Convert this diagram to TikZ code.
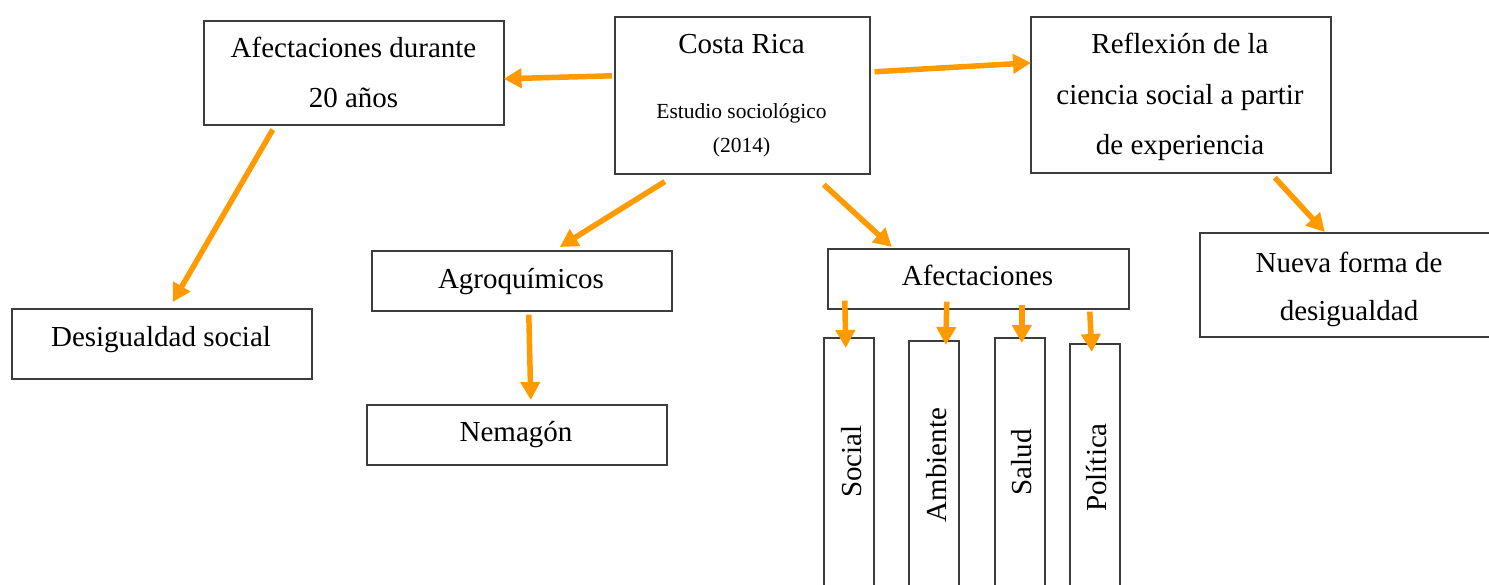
\documentclass[tikz,border=0pt]{standalone}
\usepackage{fontspec}
\setmainfont{Liberation Serif}
\usetikzlibrary{arrows.meta}
\definecolor{arrcol}{RGB}{255,155,0}
\definecolor{boxline}{RGB}{60,60,60}
\tikzset{
  box/.style={draw=boxline, line width=1.6pt, fill=white, anchor=north west, inner sep=0pt},
  txt/.style={anchor=base, inner sep=0pt, font=\fontsize{29}{29}\selectfont},
  smalltxt/.style={anchor=base, inner sep=0pt, font=\fontsize{21.5}{21.5}\selectfont},
  arr/.style={draw=arrcol, line width=5.5pt, -{Triangle[length=18pt,width=19pt]}},
}
\begin{document}
\begin{tikzpicture}[x=1pt,y=-1pt]
\path[use as bounding box, clip] (0,0) rectangle (1489,585);
\fill[white] (0,0) rectangle (1489,585);
% boxes
\node[box, minimum width=300pt, minimum height=104pt] (ad) at (203,20) {};
\node[box, minimum width=255pt, minimum height=157pt] (cr) at (614,16) {};
\node[box, minimum width=300pt, minimum height=156pt] (rf) at (1030,16) {};
\node[box, minimum width=320pt, minimum height=104pt] (nf) at (1199,232) {};
\node[box, minimum width=300pt, minimum height=70pt] (ds) at (11,308) {};
\node[box, minimum width=300pt, minimum height=60pt] (ag) at (371,250) {};
\node[box, minimum width=300pt, minimum height=60pt] (ne) at (366,404) {};
\node[box, minimum width=301pt, minimum height=60pt] (af) at (827,248) {};
\node[box, minimum width=50pt, minimum height=300pt] (so) at (823,337) {};
\node[box, minimum width=50pt, minimum height=300pt] (am) at (908,340) {};
\node[box, minimum width=50pt, minimum height=300pt] (sa) at (994,337) {};
\node[box, minimum width=50pt, minimum height=300pt] (po) at (1069,343) {};
% texts
\node[txt] (adt1) at (353.5,57.5) {Afectaciones durante};
\node[txt] (adt2) at (353.5,108) {20 años};
\node[txt] (crt1) at (741.5,53.5) {Costa Rica};
\node[smalltxt] (crt2) at (741.5,118.5) {Estudio sociológico};
\node[smalltxt] (crt3) at (741.5,152.5) {(2014)};
\node[txt] (rft1) at (1180,53.5) {Reflexión de la};
\node[txt] (rft2) at (1180,104.5) {ciencia social a partir};
\node[txt] (rft3) at (1180,155) {de experiencia};
\node[txt] (nft1) at (1349,272.5) {Nueva forma de};
\node[txt] (nft2) at (1349,321) {desigualdad};
\node[txt] (dst) at (161,346.5) {Desigualdad social};
\node[txt] (agt) at (521,289) {Agroquímicos};
\node[txt] (net) at (516,441) {Nemagón};
\node[txt] (aft) at (977.5,286) {Afectaciones};
\node[txt, rotate=90] (sot) at (861.7,461.5) {Social};
\node[txt, rotate=90] (amt) at (946,465) {Ambiente};
\node[txt, rotate=90] (sat) at (1031.7,462.5) {Salud};
\node[txt, rotate=90] (pot) at (1106.7,467.5) {Política};
% arrows
\draw[arr] ([shift={(-2,-19.5)}]cr.west) -- ([shift={(-1,6)}]ad.east);
\draw[arr] ([shift={(4,-23.5)}]cr.east) -- ([shift={(1,-32)}]rf.west);
\draw[arr] ([shift={(-77.5,7)}]cr.south) -- ([shift={(38,-3)}]ag.north);
\draw[arr] ([shift={(81.5,10)}]cr.south) -- ([shift={(-86.5,-1)}]af.north);
\draw[arr] ([shift={(-81,4)}]ad.south) -- ([shift={(11,-6)}]ds.north);
\draw[arr] ([shift={(7,3)}]ag.south) -- ([shift={(14,-4)}]ne.north);
\draw[arr] ([shift={(94,4)}]rf.south) -- ([shift={(-35,0)}]nf.north);
\draw[arr] ([shift={(-133.5,-9)}]af.south) -- ([shift={(-3,11)}]so.north);
\draw[arr] ([shift={(-31.5,-8)}]af.south) -- ([shift={(12,5)}]am.north);
\draw[arr] ([shift={(43.5,-5)}]af.south) -- ([shift={(2,6)}]sa.north);
\draw[arr] ([shift={(111.5,2)}]af.south) -- ([shift={(-3,9)}]po.north);
\end{tikzpicture}
\end{document}
